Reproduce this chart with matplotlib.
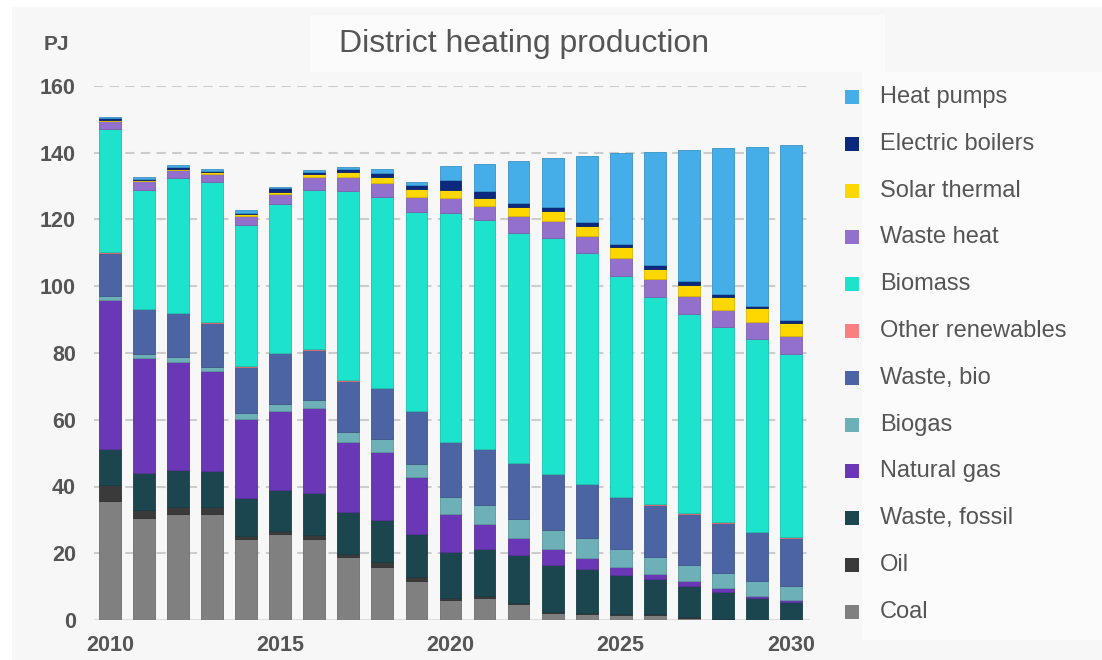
import numpy as np
import matplotlib.pyplot as plt
from matplotlib.patches import Rectangle
from matplotlib.colors import to_rgb

plt.rcParams['font.family'] = ['Liberation Sans', 'DejaVu Sans']

years = list(range(2010, 2031))

# stacked bottom -> top
coal = [35.7, 30.6, 31.7, 31.9, 24.2, 25.8, 24.4, 18.9, 16.0, 11.6, 6.1, 6.7, 4.9, 2.1, 1.8, 1.6, 1.4, 0.6, 0, 0, 0]
oil = [4.7, 2.5, 2.3, 1.9, 1.1, 0.9, 1.2, 1.0, 1.3, 1.2, 0.5, 0.4, 0.3, 0.4, 0.3, 0.3, 0.3, 0.3, 0.2, 0.1, 0.1]
waste_fossil = [10.7, 10.8, 10.8, 10.9, 11.4, 12.2, 12.5, 12.5, 12.6, 13.0, 13.9, 14.1, 14.2, 13.9, 13.3, 11.6, 10.5, 9.4, 8.2, 6.5, 5.4]
natural_gas = [44.9, 34.7, 32.5, 29.9, 23.5, 23.7, 25.3, 20.8, 20.4, 16.9, 11.2, 7.6, 5.3, 4.8, 3.3, 2.3, 1.6, 1.3, 1.1, 0.7, 0.6]
biogas = [1.0, 1.2, 1.5, 1.3, 1.7, 2.1, 2.6, 3.0, 3.8, 3.9, 5.3, 5.8, 5.7, 5.9, 5.8, 5.4, 5.1, 5.0, 4.6, 4.4, 4.2]
waste_bio = [13.1, 13.4, 13.1, 13.2, 14.0, 15.3, 15.0, 15.5, 15.4, 16.0, 16.3, 16.5, 16.5, 16.5, 16.2, 15.7, 15.7, 15.3, 15.1, 14.6, 14.4]
other_ren = [0.1] * 21
biomass = [37.0, 35.4, 40.3, 41.9, 42.5, 44.4, 47.7, 56.7, 57.1, 59.6, 68.5, 68.6, 68.9, 70.7, 69.1, 66.2, 62.0, 59.8, 58.5, 57.8, 54.8]
waste_heat = [2.4, 2.8, 2.4, 2.5, 2.6, 3.0, 3.8, 4.1, 4.2, 4.4, 4.6, 4.2, 5.1, 5.3, 5.3, 5.4, 5.4, 5.2, 5.2, 5.1, 5.4]
solar = [0.2, 0.3, 0.4, 0.5, 0.6, 0.8, 0.9, 1.5, 1.9, 2.3, 2.3, 2.5, 2.7, 2.8, 3.0, 3.1, 3.2, 3.4, 3.7, 4.1, 3.9]
elec = [0.6, 0.4, 0.5, 0.4, 0.2, 1.0, 0.6, 1.0, 1.0, 1.4, 2.9, 2.0, 1.3, 1.3, 1.1, 1.0, 1.2, 1.2, 1.0, 0.8, 0.9]
heat_pumps = [0.2, 0.4, 0.6, 0.6, 0.8, 0.5, 0.8, 0.7, 1.4, 0.8, 4.3, 8.0, 12.5, 14.6, 19.7, 27.1, 33.8, 39.3, 43.7, 47.5, 52.4]

series = [
    ("Coal", coal, "#808080"),
    ("Oil", oil, "#3a3a3a"),
    ("Waste, fossil", waste_fossil, "#1b4650"),
    ("Natural gas", natural_gas, "#6a38b6"),
    ("Biogas", biogas, "#6db0b8"),
    ("Waste, bio", waste_bio, "#4d64a4"),
    ("Other renewables", other_ren, "#f88080"),
    ("Biomass", biomass, "#1de2cc"),
    ("Waste heat", waste_heat, "#9370cc"),
    ("Solar thermal", solar, "#ffd700"),
    ("Electric boilers", elec, "#0b2a7e"),
    ("Heat pumps", heat_pumps, "#45aee8"),
]

W, H = 1102, 660
fig = plt.figure(figsize=(W / 100, H / 100), dpi=100, facecolor="white")
fig.patches.append(Rectangle((12 / W, 0), 1, 1 - 7 / H, transform=fig.transFigure,
                             facecolor="#f7f7f7", edgecolor="none", zorder=-10))
# title panel and legend panel
fig.patches.append(Rectangle((310 / W, 1 - 72 / H), 575 / W, 57 / H, transform=fig.transFigure,
                             facecolor="#fbfbfb", edgecolor="none", zorder=-9))
fig.patches.append(Rectangle((862 / W, 1 - 640 / H), 240 / W, 568 / H, transform=fig.transFigure,
                             facecolor="#fbfbfb", edgecolor="none", zorder=-9))

ax = fig.add_axes([94 / W, (H - 620) / H, 716 / W, 534 / H])
ax.set_facecolor("none")

bottom = np.zeros(len(years))
for name, vals, col in series:
    v = np.array(vals, dtype=float)
    edge = tuple(c * 0.85 for c in to_rgb(col))
    ax.bar(years, v, width=0.64, bottom=bottom, color=col, edgecolor=edge, linewidth=0.6, zorder=3)
    bottom += v

ax.set_xlim(2009.53, 2030.56)
ax.set_ylim(0, 160)
ax.set_yticks(range(0, 161, 20))
ax.set_xticks([2010, 2015, 2020, 2025, 2030])
for s in ax.spines.values():
    s.set_visible(False)
ax.axhline(0, color="#dddddd", lw=1.5, zorder=2)
for yv in range(20, 161, 20):
    ax.axhline(yv, color="#cccccc", lw=1.5, ls=(0, (4.5, 3)), zorder=1)
ax.tick_params(length=0, labelsize=15.5, colors="#555555")
ax.tick_params(axis="y", pad=13)
ax.tick_params(axis="x", pad=11)
for lab in ax.get_xticklabels() + ax.get_yticklabels():
    lab.set_fontweight("bold")

fig.text(56 / W, 1 - 45 / H, "PJ", fontsize=15, fontweight="bold", color="#555555",
         ha="center", va="center")
fig.text(524 / W, 1 - 44 / H, "District heating production", fontsize=23, color="#555555",
         ha="center", va="center")

# legend, top to bottom
for i, (name, vals, col) in enumerate(series[::-1]):
    yc = 97 + i * 46.8
    fig.patches.append(Rectangle((845 / W, 1 - (yc + 7) / H), 14 / W, 14 / H, transform=fig.transFigure,
                                 facecolor=col, edgecolor="none"))
    fig.text(880 / W, 1 - yc / H, name, fontsize=17, color="#555555", ha="left", va="center")

fig.savefig("out.png", dpi=100, facecolor=fig.get_facecolor())
